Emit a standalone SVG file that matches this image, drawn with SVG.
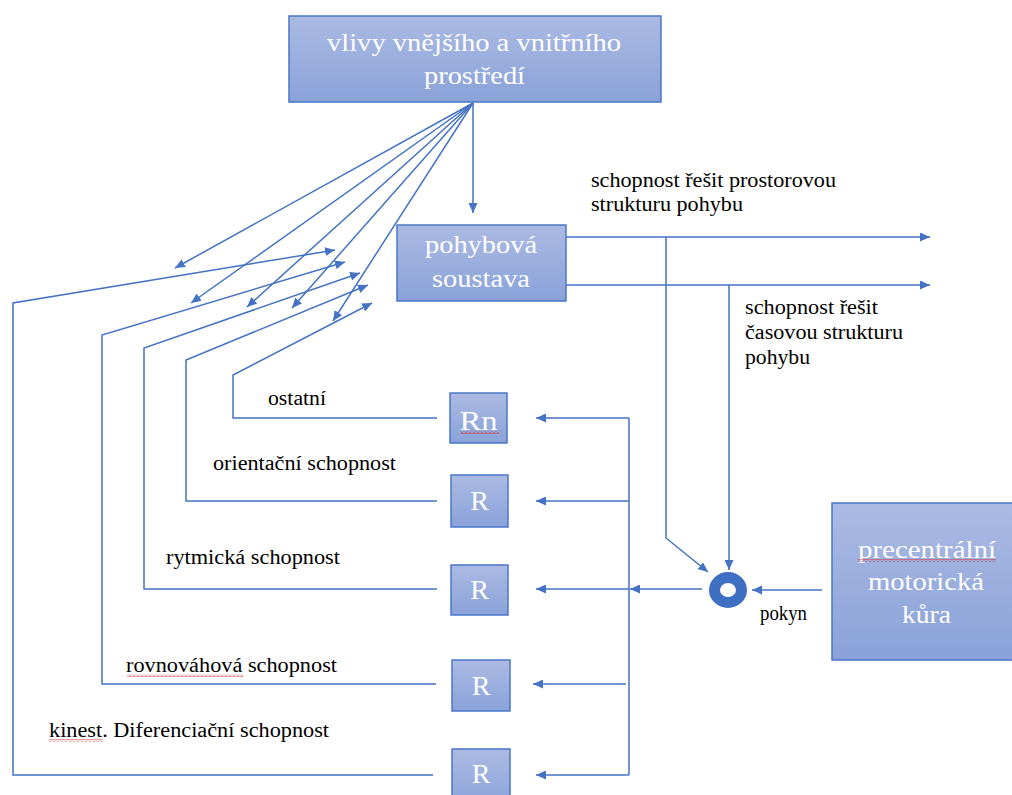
<svg xmlns="http://www.w3.org/2000/svg" width="1012" height="795" viewBox="0 0 1012 795">
  <style>
    .box { fill: url(#boxFill); stroke: #4a77c6; stroke-width: 1.5; }
    .btxt { font-family: "Liberation Serif", "Times New Roman", serif; font-size: 25px; fill: #ffffff; text-anchor: middle; }
    .rtxt { font-family: "Liberation Serif", "Times New Roman", serif; font-size: 28px; fill: #ffffff; text-anchor: middle; }
    .lbl { font-family: "Liberation Serif", "Times New Roman", serif; font-size: 20px; fill: #000000; }
    .ln { fill: none; stroke: #4472c4; stroke-width: 1.5; }
    .arr { fill: none; stroke: #4472c4; stroke-width: 1.5; marker-end: url(#head); }
    .squig { fill: url(#wave); }
  </style>
  <defs>
    <linearGradient id="boxFill" x1="0" y1="0" x2="0" y2="1">
      <stop offset="0" stop-color="#abbae3"/>
      <stop offset="1" stop-color="#8aa2d9"/>
    </linearGradient>
    <marker id="head" markerUnits="userSpaceOnUse" markerWidth="11" markerHeight="9" refX="10" refY="4.5" orient="auto">
      <path d="M0,0 L10,4.5 L0,9 z" fill="#4472c4"/>
    </marker>
    <!-- red wavy spell-check underline -->
    <pattern id="wave" patternUnits="userSpaceOnUse" width="4" height="3">
      <polyline points="0,2.5 2,0.5 4,2.5" fill="none" stroke="#e02020" stroke-width="0.9"/>
    </pattern>
  </defs>

  <rect width="1012" height="795" fill="#ffffff"/>

  <!-- connectors -->
  <g id="connectors">
    <!-- influence from environment -->
    <line class="arr" x1="473" y1="103" x2="473" y2="213"/>
    <line class="arr" x1="473" y1="103" x2="175" y2="268"/>
    <line class="arr" x1="473" y1="103" x2="191" y2="303"/>
    <line class="arr" x1="473" y1="103" x2="247" y2="307"/>
    <line class="arr" x1="473" y1="103" x2="292" y2="308"/>
    <line class="arr" x1="473" y1="103" x2="333" y2="321"/>

    <!-- feedback from receptors back up to the motor system -->
    <polyline class="arr" points="433,775 13,775 13,303 335,250"/>
    <polyline class="arr" points="436,684 102,684 102,335 345,262"/>
    <polyline class="arr" points="437,589 144,589 144,348 360,273"/>
    <polyline class="arr" points="437,501 186,501 186,360 368,285"/>
    <polyline class="arr" points="437,418 233,418 233,375 372,303"/>

    <!-- outputs of the motor system -->
    <line class="arr" x1="566" y1="237" x2="930" y2="237"/>
    <line class="arr" x1="566" y1="285" x2="930" y2="285"/>
    <polyline class="arr" points="666,237 666,538 708,572"/>
    <line class="arr" x1="729" y1="285" x2="729" y2="570"/>

    <!-- command from motor cortex -->
    <line class="arr" x1="822" y1="590" x2="752" y2="590"/>
    <line class="arr" x1="702" y1="589" x2="630" y2="589"/>

    <!-- distribution bus to receptors -->
    <line class="ln" x1="629" y1="418" x2="629" y2="775"/>
    <line class="arr" x1="629" y1="418" x2="536" y2="418"/>
    <line class="arr" x1="629" y1="501" x2="536" y2="501"/>
    <line class="arr" x1="629" y1="589" x2="536" y2="589"/>
    <line class="arr" x1="626" y1="684" x2="533" y2="684"/>
    <line class="arr" x1="629" y1="775" x2="536" y2="775"/>
  </g>

  <!-- nodes -->
  <g id="vlivy">
    <rect class="box" x="289" y="16" width="372" height="86"/>
    <text class="btxt" x="474" y="51" textLength="294" lengthAdjust="spacingAndGlyphs">vlivy vnějšího a vnitřního</text>
    <text class="btxt" x="474.5" y="84" textLength="101" lengthAdjust="spacingAndGlyphs">prostředí</text>
  </g>

  <g id="pohybova-soustava">
    <rect class="box" x="397" y="225" width="169" height="76"/>
    <text class="btxt" x="481" y="253" textLength="112" lengthAdjust="spacingAndGlyphs">pohybová</text>
    <text class="btxt" x="481" y="287" textLength="98" lengthAdjust="spacingAndGlyphs">soustava</text>
  </g>

  <g id="motoricka-kura">
    <rect class="box" x="832" y="503" width="182" height="157"/>
    <text class="btxt" x="927" y="558" textLength="138" lengthAdjust="spacingAndGlyphs">precentrální</text>
    <rect class="squig" x="858" y="559" width="138" height="3"/>
    <text class="btxt" x="926" y="590" textLength="116" lengthAdjust="spacingAndGlyphs">motorická</text>
    <text class="btxt" x="926.5" y="623" textLength="49" lengthAdjust="spacingAndGlyphs">kůra</text>
  </g>

  <g id="komparator">
    <ellipse cx="728" cy="590" rx="13.5" ry="12.5" fill="none" stroke="#3f6fc2" stroke-width="11"/>
  </g>

  <g id="receptor-n">
    <rect class="box" x="450" y="393" width="57" height="50"/>
    <text class="rtxt" x="478.5" y="430" textLength="38" lengthAdjust="spacingAndGlyphs">Rn</text>
    <rect class="squig" x="461" y="431" width="38" height="3"/>
  </g>
  <g id="receptor-1">
    <rect class="box" x="451" y="475" width="57" height="52"/>
    <text class="rtxt" x="479.5" y="510">R</text>
  </g>
  <g id="receptor-2">
    <rect class="box" x="451" y="565" width="57" height="50"/>
    <text class="rtxt" x="479.5" y="599">R</text>
  </g>
  <g id="receptor-3">
    <rect class="box" x="452" y="660" width="58" height="51"/>
    <text class="rtxt" x="481" y="695">R</text>
  </g>
  <g id="receptor-4">
    <rect class="box" x="452" y="749" width="58" height="60"/>
    <text class="rtxt" x="481" y="783">R</text>
  </g>

  <!-- labels -->
  <g id="labels">
    <text class="lbl" x="591" y="187" textLength="245" lengthAdjust="spacingAndGlyphs">schopnost řešit prostorovou</text>
    <text class="lbl" x="591" y="211" textLength="152" lengthAdjust="spacingAndGlyphs">strukturu pohybu</text>
    <text class="lbl" x="745" y="314" textLength="133" lengthAdjust="spacingAndGlyphs">schopnost řešit</text>
    <text class="lbl" x="745" y="339" textLength="158" lengthAdjust="spacingAndGlyphs">časovou strukturu</text>
    <text class="lbl" x="745" y="364" textLength="65" lengthAdjust="spacingAndGlyphs">pohybu</text>
    <text class="lbl" x="760" y="620" textLength="47" lengthAdjust="spacingAndGlyphs">pokyn</text>
    <text class="lbl" x="268" y="405" textLength="58" lengthAdjust="spacingAndGlyphs">ostatní</text>
    <text class="lbl" x="213" y="470" textLength="183" lengthAdjust="spacingAndGlyphs">orientační schopnost</text>
    <text class="lbl" x="166" y="564" textLength="174" lengthAdjust="spacingAndGlyphs">rytmická schopnost</text>
    <text class="lbl" x="126" y="672" textLength="211" lengthAdjust="spacingAndGlyphs">rovnováhová schopnost</text>
    <rect class="squig" x="127" y="674" width="116" height="3"/>
    <text class="lbl" x="49" y="737" textLength="280" lengthAdjust="spacingAndGlyphs">kinest. Diferenciační schopnost</text>
    <rect class="squig" x="49" y="739" width="54" height="3"/>
  </g>
</svg>
